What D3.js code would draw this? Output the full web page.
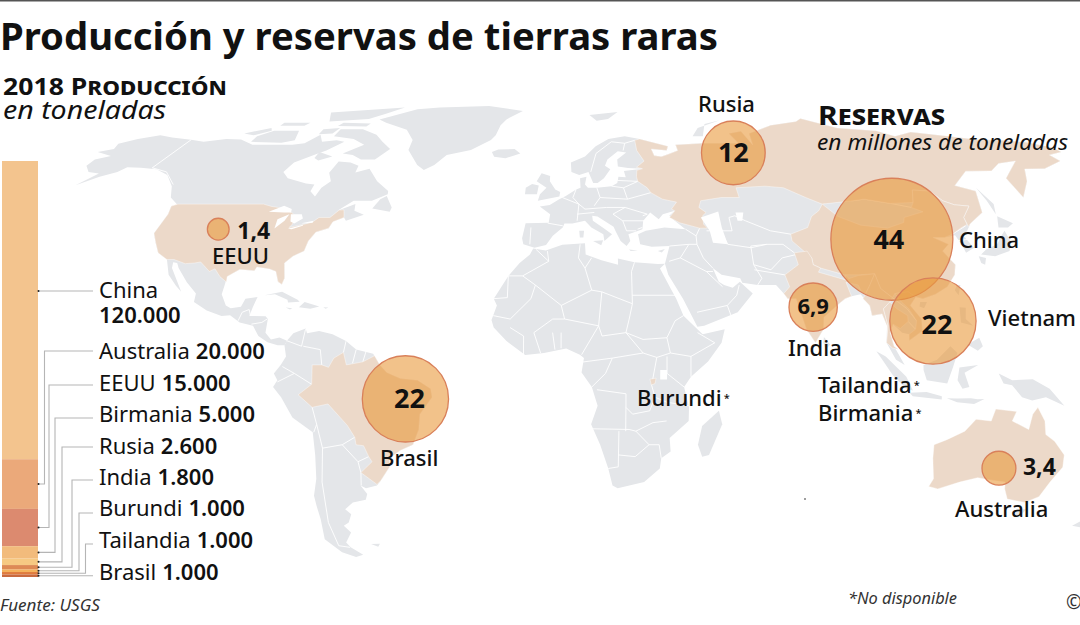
<!DOCTYPE html>
<html>
<head>
<meta charset="utf-8">
<script src="https://cdn.jsdelivr.net/npm/d3@7"></script>
<style>
  html, body { margin: 0; padding: 0; background: #fff; }
  svg { display: block; }
  text { font-family: "Noto Sans", "Open Sans", sans-serif; fill: #111; }
</style>
</head>
<body>
<svg id="chart" width="1080" height="625"></svg>
<script>
// production in tonnes, 2018
var prodNames = ['China', 'Australia', 'EEUU', 'Birmania', 'Rusia', 'India', 'Burundi', 'Tailandia', 'Brasil'];
var prodValues = [120000, 20000, 15000, 5000, 2600, 1800, 1000, 1000, 1000];
var prodLabels = ['120.000', '20.000', '15.000', '5.000', '2.600', '1.800', '1.000', '1.000', '1.000'];

// reserves in million tonnes
var resNames = ['Rusia', 'China', 'Vietnam', 'India', 'Brasil', 'EEUU', 'Australia'];
var resValues = [12, 44, 22, 6.9, 22, 1.4, 3.4];
var resLabels = ['12', '44', '22', '6,9', '22', '1,4', '3,4'];
var resLon = [64, 105, 112.3, 77.3, -42.6, -105, 134.5];
var resLat = [65.2, 38.5, 14.4, 18.5, -8.5, 41.5, -28.9];

// land outlines, [lon, lat]
var northAmerica = [[-168,65.5],[-164,66.5],[-166,68.3],[-162,70],[-156.5,71.3],[-150,70.5],[-141,69.7],[-135,69],[-128,70],[-122,69.8],[-115,68],[-108,68],[-100,68],[-96,68.5],[-94,71.5],[-90,69],[-85,69.5],[-81.5,69],[-85,66],[-87,65],[-93,62],[-94.5,59],[-92,57],[-85,55.3],[-82,55],[-82,52.9],[-79.5,51.3],[-79,54],[-76.8,56],[-78.5,58.7],[-77.5,62.4],[-73,62],[-69.5,61],[-69.5,58.8],[-65,60],[-61,56],[-56,53],[-55.7,52],[-60,50],[-66,50],[-70,47],[-65,49],[-64.5,47],[-61,45.8],[-66,44],[-67,45],[-70,43.7],[-70.5,41.8],[-74,40.6],[-75.5,38],[-76,35],[-79,33.5],[-81,31.5],[-80,27],[-80.5,25.2],[-81.8,26],[-83,29],[-85,29.7],[-89,30.3],[-89.5,29.2],[-94,29.6],[-97.3,27.5],[-97.5,25],[-97.8,22.3],[-96,19],[-94.5,18.2],[-91.5,18.6],[-90.5,21],[-87,21.5],[-88,18.5],[-88.8,15.9],[-84,15.8],[-83.3,15],[-83.7,11],[-82,9],[-79.5,9.6],[-77.3,8.6],[-78,7.3],[-80,7.3],[-83,8.2],[-85.7,10],[-87.5,13],[-91.5,14],[-94.5,16.1],[-97,15.9],[-101.5,17.5],[-105.5,20],[-105.5,22.5],[-109,25.8],[-112.5,30],[-113.5,31.5],[-114.8,31.7],[-114.5,30],[-110,23],[-112,24.8],[-115,28],[-117,32.5],[-120.5,34.5],[-122.5,37.5],[-124.3,40.3],[-124,46],[-124.7,48.4],[-122.5,48.5],[-127,51],[-130,54.5],[-134,58],[-139,59.8],[-145,60.3],[-150,60.5],[-152,59],[-157,57.5],[-163,54.8],[-158,58.5],[-162,59],[-165,61],[-165,63],[-161,64.2]];
var southAmerica = [[-77.3,8.6],[-75.5,10.8],[-72,12.2],[-71.5,10.8],[-68,11.5],[-64,10.5],[-60,8.5],[-57,6],[-52,4.8],[-50,1.5],[-48,-0.7],[-44,-2.5],[-39,-3],[-35.2,-5.5],[-34.8,-8],[-38.5,-13],[-39,-17.5],[-41,-22],[-45,-23.7],[-48.5,-26],[-48.7,-28.5],[-52,-32.5],[-53.5,-34],[-57,-34.8],[-58.5,-34],[-57,-36.5],[-57.8,-38.2],[-62,-39],[-65,-41],[-63.7,-42.5],[-65.5,-45],[-67.5,-46],[-66,-48],[-69,-51],[-68.3,-52.5],[-65.3,-54.8],[-68,-55.5],[-72,-54],[-75.5,-50],[-74,-44],[-73.5,-40],[-73.5,-37],[-71.5,-32],[-70.5,-25],[-70.3,-18.3],[-76,-14],[-79,-8],[-81.3,-5],[-80,-3],[-81,-1],[-79,1.5],[-77.5,4],[-78,7.3]];
var africa = [[-5.9,35.8],[-2,35.2],[3,36.9],[10,37.3],[10.2,34],[15,32.3],[20,31],[20,32.8],[25,31.7],[32,31.2],[34.2,31.3],[32.6,29.9],[35.5,24],[37,21],[39,16],[43,12],[44.5,10.5],[51,12],[50,8],[46,2.5],[41,-2],[39,-5],[40.5,-11],[40.5,-15],[35,-20],[35.5,-24],[32.8,-26],[32.5,-29],[28,-33],[20,-34.8],[18.4,-34],[17,-29],[14.5,-22],[11.8,-16],[13.7,-10.5],[12,-5],[9,-0.7],[9.7,3.5],[8.5,4.5],[4.5,6.3],[-2,5],[-7.5,4.4],[-13,8.5],[-16.8,12.5],[-17.5,14.7],[-16,19],[-17,21],[-13,27.7],[-9.8,31.5],[-6.8,34]];
var eurasia = [[-9,37],[-9.5,38.8],[-8.8,43.3],[-1.5,43.4],[-1.2,46],[-4.7,48.3],[-1.5,48.7],[1.5,50.5],[3.5,51.4],[7,53.5],[8.5,54],[8.3,57],[10.5,57.5],[10,55],[11,54],[14,54],[19,54.5],[21,55.5],[21.5,57.5],[24,57.3],[23.5,59.3],[30,60],[25,60.2],[21.5,60.7],[21.5,63],[25,65.3],[22,65.8],[18,63],[17,61],[18.8,59.8],[16.5,57],[14.3,55.5],[12.8,55.5],[11.2,59],[8,58],[5.3,59],[5,62],[10,64],[14,67.5],[19,70],[25.5,71],[31,70],[41,67.5],[40,66],[34.5,66.5],[35,64.3],[37.5,64],[40,64.7],[44,66],[44,68],[54,68.5],[60,68.5],[68,68.5],[67,72],[72.5,72.8],[73,68],[75,72],[81,73.5],[87,75],[100,76.5],[104,77.7],[113,74],[127,73],[131,71],[140,72.5],[152,71],[160,69.8],[170,69.5],[178,68.8],[184,67],[184,65.5],[178,64.5],[179,62.5],[170,60],[163,59.9],[161,56],[155,51],[154.5,57],[163,62.5],[156,61.7],[151,59.3],[142,59.2],[135.5,54.7],[141,53],[138,46.5],[132,43.2],[129.5,41],[127.5,39.5],[129.5,36],[126.5,34.5],[126,37],[125,39.7],[121.5,39],[118,39],[122,37],[119.5,35],[122,31],[121,28],[118,24.5],[114,22.3],[110,21],[108,21.5],[106,19],[109,15],[109,11.5],[105,8.7],[105,10.5],[103,11],[100.5,13.5],[99.5,11],[100.5,7],[103.5,1.5],[101,3],[98.3,8],[98.7,13],[97.5,16.5],[94.5,16],[94,19],[91.8,22.3],[89,21.7],[87,21],[85,19.5],[80.3,15.5],[80,12],[77.5,8],[75,12],[73,19],[72.5,21],[70,21],[69,22.5],[67,25],[61.5,25],[57,25.7],[56.5,27],[51,28],[48.5,30],[50,26],[51.5,25],[54,24.2],[56.3,26],[59.8,22.5],[55,17],[45,13],[43,12.7],[39,21],[35,28],[34.2,31.3],[36,36.5],[30.5,36.3],[27,37],[26.5,40],[29,41],[35,42],[41.5,41.5],[38,44.5],[37,45.5],[39,47],[35,46],[33.5,44.5],[31,46.5],[28.5,44],[28,41.5],[26,40.8],[23.5,40],[24,38],[22.8,36.5],[21,38],[19.5,41],[19,42.2],[14,45.3],[12.3,45.5],[12.5,44],[16,41.7],[18.4,40],[16,38],[15.7,40],[12,42],[10,44],[6,43.2],[3.5,43.2],[3,42],[0,39.5],[-2,36.8],[-5.5,36]];
var australia = [[113.5,-22],[114,-26],[115.7,-32],[115,-34.3],[118,-35],[124,-33],[129,-31.7],[134,-32.5],[137.8,-33],[138.5,-35],[140.5,-38],[146.4,-39],[150,-37.3],[151.5,-33],[153.6,-28.6],[153,-25],[149,-21],[146,-19],[145.3,-15],[142.8,-11],[141.5,-13],[140.8,-17.5],[135.7,-15],[136.7,-12.2],[130.5,-11.5],[129.5,-15],[125,-14.5],[122,-18],[117,-20.5]];
var greenland = [[-79,77.3],[-70,82],[-61,83],[-38,84],[-19,81],[-24,77.3],[-25,75],[-25,71.3],[-26,69.6],[-32,66.2],[-40,64.5],[-43,61.2],[-46,59.6],[-49,61.2],[-55,66.2],[-56,69.6],[-62,73.3],[-74,76]];
var islands = [
  [[-80,73.5],[-72,71.5],[-67,69],[-62,66.5],[-65,63],[-70,63],[-74,64.5],[-78,65],[-73,68],[-79,70],[-88,71],[-89,73.5]],
  [[-117,69],[-105,68.7],[-101,69.5],[-105,73],[-115,73],[-118,71]],
  [[-125,72],[-118,74],[-116,73],[-120,71.3]],
  [[-106,80],[-78,83],[-80,79.5],[-84,77.5],[-99,76.5]],
  [[-92,76],[-80,75.7],[-80,74.5],[-92,74.7]],
  [[-117,76],[-106,76],[-106,74.8],[-116,74.8]],
  [[-96,73.5],[-90,74],[-90,72],[-95,71.7]],
  [[-87,65.5],[-81,64],[-85,62.7],[-87,63.5]],
  [[-59,47.7],[-53,46.7],[-52.8,48],[-55.8,51.5],[-57.5,50.5]],
  [[-85,22],[-80,23],[-75,20.7],[-74.3,20.1],[-77.7,19.9],[-78,20.7],[-82,22.3]],
  [[-74.4,18.5],[-72.8,20],[-68.4,18.7],[-71,18]],
  [[-78.3,18.4],[-76.3,18.2],[-77,17.8]],
  [[-67.2,18.5],[-65.7,18.4],[-66.5,18]],
  [[-24,65.5],[-22,66.4],[-16,66.5],[-13.5,65],[-18.5,63.4],[-22.7,63.9]],
  [[49.3,-12],[50.4,-16],[47,-25],[45,-25.5],[43.5,-22],[44.5,-16.5]],
  [[-5.5,50],[1.5,51.3],[1.7,52.7],[0,53.5],[-2,56],[-2,57.7],[-5,58.6],[-6.5,56],[-3,54],[-5,52]],
  [[-10,52],[-6,52],[-5.7,54.7],[-8,55.2],[-10,54]],
  [[12,79],[25,80.4],[20,77.5],[15,76.8]],
  [[52,71],[56,74],[68,77],[60,75.5],[56,71]],
  [[142,54],[143.5,49],[142,46],[142,50]],
  [[130.9,34],[135,33.5],[140,35],[141.5,38],[141.2,41],[139.8,40],[137,37],[133,35.5]],
  [[140,42],[142,45.4],[145.5,43.3],[143,42]],
  [[130,33.5],[132,33],[131,31],[130,31.5]],
  [[121,25],[122,25],[120.8,22],[120,23.5]],
  [[109,20],[111,20],[110,18.2],[108.7,18.7]],
  [[80,9.7],[81.8,7.5],[80.5,6],[79.8,8]],
  [[95.3,5.5],[98,4],[104,-2],[106,-6],[104,-5.5],[100,-1.5],[97,3]],
  [[105,-6.7],[110,-6.5],[114.5,-7.7],[114.5,-8.7],[106,-7.7]],
  [[109,1.5],[113,3],[117,7],[119,5],[117.7,1],[116,-4],[110,-3],[109,0]],
  [[119.5,0.7],[125,1.5],[121,-0.8],[122.5,-5],[120.5,-5.5],[119,-3]],
  [[120.5,18.5],[122.3,18.3],[122,15],[124,13],[120.5,14]],
  [[122,7.5],[125.5,9.5],[126.5,7],[125,5.7]],
  [[131,-1],[135,-3],[141,-2.7],[146,-5.5],[150.5,-10.5],[145,-8],[141,-9],[138,-8],[135,-4.5],[132.5,-4]],
  [[116,-8.3],[119,-8.4],[123,-8.3],[125,-8.6],[127,-8.5],[124,-10],[119,-9.5]],
  [[145,-41],[148,-41],[147.5,-43.4],[146,-43.4]],
  [[172.7,-34.5],[178.5,-37.7],[175,-41.5],[174,-39.5]],
  [[172,-41],[174.3,-41.7],[170,-46.5],[166.5,-46]],
  [[8.2,41],[9.7,41],[9.5,39],[8.4,39]],
  [[12.5,38],[15.6,38.2],[15,36.7]],
  [[23.5,35.5],[26.2,35.2],[24,35]],
  [[32.3,35],[34.5,35.6],[33.5,34.6]],
  [[-61,-51.5],[-58,-51.4],[-59,-52.3]]
];
// water sitting inside the land
var lakes = [
  [[47,45],[53,46.8],[53,42],[54,37],[49.5,37.5],[49,41]],
  [[-92,46.7],[-88,48.5],[-85,47.5],[-84.7,46.5],[-87,46.5]],
  [[-87.5,41.7],[-88,44.5],[-85,46],[-85.5,44]],
  [[-84.5,46],[-81,46],[-80,44.7],[-82,43.2],[-83.5,43.8]],
  [[-83.2,41.6],[-79,42.8],[-79,42.5],[-82,41.5]],
  [[-79.8,43.3],[-76.3,44],[-76.3,43.4],[-79,43.2]],
  [[58.5,46.5],[61,46.5],[60,44],[58.5,44]],
  [[32,0],[34,0],[34,-2.8],[32,-2.8]]
];

// highlighted countries
var unitedStates = [[-124.7,48.4],[-123,49],[-95,49],[-92,48.3],[-89.5,48],[-84.5,46.5],[-82.5,45.3],[-82.5,43],[-83,42],[-79,42.9],[-76.5,43.6],[-75,45],[-71.5,45],[-69.5,47.2],[-68,47.3],[-67,45],[-70,43.7],[-70.5,41.8],[-74,40.6],[-75.5,38],[-76,35],[-79,33.5],[-81,31.5],[-80,27],[-80.5,25.2],[-81.8,26],[-83,29],[-85,29.7],[-89,30.3],[-89.5,29.2],[-94,29.6],[-97.3,27.5],[-97.2,25.9],[-99.5,27.5],[-101.5,29.8],[-103,29],[-106.5,31.8],[-108.2,31.5],[-111,31.3],[-114.8,32.5],[-117,32.5],[-120.5,34.5],[-122.5,37.5],[-124.3,40.3],[-124,46]];
var brazil = [[-51.6,4.2],[-50,1.5],[-48,-0.7],[-44,-2.5],[-39,-3],[-35.2,-5.5],[-34.8,-8],[-38.5,-13],[-39,-17.5],[-41,-22],[-45,-23.7],[-48.5,-26],[-48.7,-28.5],[-52,-32.5],[-53.4,-33.7],[-57.6,-30.2],[-53.8,-27],[-54.6,-25.5],[-55.7,-22.3],[-57.9,-22],[-58,-19.8],[-60,-16.3],[-65.3,-10],[-70,-11],[-74,-7.3],[-70,-4.2],[-69.8,1.5],[-67,1.5],[-65,0.8],[-63.5,3.5],[-60.7,5.2],[-59.8,1.5],[-55,2.4]];
var russia = [[31,70],[41,67.5],[40,66],[34.5,66.5],[35,64.3],[37.5,64],[40,64.7],[44,66],[44,68],[54,68.5],[60,68.5],[68,68.5],[67,72],[72.5,72.8],[73,68],[75,72],[81,73.5],[87,75],[100,76.5],[104,77.7],[113,74],[127,73],[131,71],[140,72.5],[152,71],[160,69.8],[170,69.5],[178,68.8],[184,67],[184,65.5],[178,64.5],[179,62.5],[170,60],[163,59.9],[161,56],[155,51],[154.5,57],[163,62.5],[156,61.7],[151,59.3],[142,59.2],[135.5,54.7],[141,53],[138,46.5],[132,43.2],[130.7,42.3],[131,45],[135,48.4],[130.5,48.8],[127.5,50],[125.5,53],[120,53.3],[117.5,49.5],[110,49.2],[102,50.5],[98,50],[87.5,49],[83,51],[77,54],[71,54.5],[61,54],[61,51],[55,51],[48,50],[47,48],[49,46.5],[47.7,45.5],[47.5,43],[48.5,41.8],[46,41.8],[40,43.4],[37,45],[39,47],[38,47.5],[40,49.6],[35.5,50.5],[32,52.5],[31,54],[28,56],[27.7,57.5],[28,59.5],[30,60],[28,60.5],[31,62.5],[29,66],[29,69.5]];
var china = [[130.7,42.9],[131,45],[135,48.4],[130.5,48.8],[127.5,50],[125.5,53],[120,53.3],[117.5,49.5],[116,48],[119,46.7],[112,45],[111,43.5],[105,41.8],[97,42.7],[91,45.3],[87.5,49],[85.5,47],[82.5,45.3],[80,42],[74,40],[74,38],[79,33],[79,31],[81,30],[88,28],[92,28],[97,28.3],[98,24],[101,21.3],[102,22.5],[106,23],[108,21.5],[110,21],[114,22.3],[118,24.5],[121,28],[122,31],[119.5,35],[122,37],[118,39],[121.5,39],[124.3,40],[128,41.8]];
var india = [[74,34.5],[78,35],[79,33],[79,31],[81,30],[80.2,28.8],[88,26.5],[88.3,28],[89,26.9],[92,27.8],[97,28.3],[95,25],[93,22],[92,23.5],[91.5,25],[88,25.8],[89,21.7],[87,21],[85,19.5],[80.3,15.5],[80,12],[77.5,8],[75,12],[73,19],[72.5,21],[70,21],[69,22.5],[71,24.5],[70,28],[74.5,31]];
var myanmar = [[97,28.3],[98,24],[101,21.3],[100,20],[98,18],[99,13],[98.7,10],[98.7,13],[97.5,16.5],[94.5,16],[94,19],[92.3,21],[93,22],[95,25]];
var thailand = [[98,18],[100,20],[102,18],[105,16],[105,14.3],[102.5,12.2],[100.5,13.5],[99.5,11],[100.5,7],[101.8,6],[100,6.5],[98.3,8],[99,13]];
var vietnam = [[102,22.5],[106,23],[108,21.5],[106,19],[109,15],[109,11.5],[105,8.7],[105,10.5],[107,12],[107.5,14.5],[105.5,18],[103.5,20]];
var burundi = [[29,-2.7],[30.8,-2.4],[30.5,-4],[29.4,-4.4]];

// thin white frontiers
var frontiers = [
  [[-141,69.7],[-141,60.3],[-135,59],[-130,55]],
  [[-92,14.5],[-91,17],[-89,17.8],[-88.5,16]],
  [[-88,13.5],[-85,14],[-83.5,15]],
  [[-77.3,8.6],[-73,7],[-72,12]],
  [[-72.5,7],[-67.5,6],[-67,1.5]],
  [[-60.7,5.2],[-60,8.5]],
  [[-57,6],[-58,2]],[[-54,5.8],[-55,2.4]],
  [[-70,-4.2],[-75,-1],[-78.5,1]],[[-75,-1],[-80,-3.5]],
  [[-70,-11],[-69,-16],[-70,-18.3]],
  [[-69,-16],[-68,-23],[-62,-22],[-58,-19.8]],
  [[-68,-23],[-70,-33],[-72,-45],[-72,-52],[-68.5,-52.5]],
  [[-62,-22],[-58,-27],[-54.6,-25.5]],
  [[-58,-27],[-57.6,-30.2],[-58.3,-34]],
  [[-8.7,27.7],[-13,27.7]],[[-8.7,27.7],[-1,32],[-5,35.5]],
  [[-1,32],[-1.5,35]],
  [[-8.7,27.7],[-4.8,25],[-6,21],[-12,15],[-17,16]],[[-13,21.3],[-17,21]],[[-13,21.3],[-13,27.7]],
  [[-4.8,25],[3,19],[12,23.5],[10,30],[8,33],[8.5,37]],
  [[10,30],[12,33]],[[12,23.5],[15,23],[24,19.5],[24,29],[25,31.7]],
  [[24,22],[36.8,22]],[[24,19.5],[23,15],[22,11],[27,9]],[[15,23],[14,13],[15,10]],[[3,19],[4,15],[0.5,15],[-5,11],[-3,5]],
  [[4,15],[14,13]],[[3,11],[3,6.4]],[[14,13],[9,4.5]],[[1.2,6],[0.5,11]],[[-8,4.5],[-8,10],[-12,12.5]],
  [[15,10],[22,11]],[[22,11],[27,5],[31,3.7],[35,5],[34,9.5],[36.5,14.5],[39,16]],
  [[34,9.5],[27,9]],[[35,5],[41,4],[48,8],[43,11]],[[41,4],[41,-2]],[[34,4],[34,-1],[39,-5]],
  [[9,2.3],[18,3.5],[16,-1],[12,-5]],[[18,3.5],[27,5]],[[13.5,-5.8],[22,-7],[22,-11],[24,-13],[29,-12],[30.5,-8],[29.5,-4.5],[31,3.7]],
  [[30.5,-8],[34,-9.5],[40.5,-10.5]],[[12,-17.3],[23,-17.5],[25,-18],[30,-15.5],[34,-15]],[[22,-11],[22,-18]],[[20,-18],[20,-28.5],[17,-29]],
  [[25,-18],[29,-22],[32,-22],[32.8,-26]],[[20,-25],[25,-25.5],[29,-22]],
  [[-1.8,43.3],[3,42.5]],[[-7,42],[-7,37]],[[2.5,51],[8,49],[7.5,44]],[[7,53.5],[6,51],[8,49]],[[8,49],[10,47.5],[17,48],[23,48]],
  [[14,54],[15,51],[24,50.5],[23,54],[19,54.5]],[[15,51],[13,48.5]],[[13,46.5],[7.5,46]],[[24,50.5],[32,52.5]],[[23,54],[28,56]],[[21,56.3],[28,56]],
  [[23,48],[30,46],[28.5,45.5]],[[22,44],[29,44]],[[19,46],[23,48]],[[19,46],[22,44],[23,41],[26,41]],[[26.5,41.5],[28,42]],
  [[12,59],[14,65],[20,69],[25,68.5],[29,69.5]],[[24,66],[25,68.5]],
  [[36,36.5],[42,37],[44.5,37],[44.5,39.5],[41.5,41.5]],[[46,41.8],[44.5,39.5]],[[44.5,37],[46,33],[48.5,30]],[[42,37],[39,33],[35.5,32]],[[39,33],[46.5,29],[48.5,29]],[[46.5,29],[51,24.5]],[[43,17],[52,19],[55,22],[56,25]],[[52,19],[53,16]],
  [[61,36.5],[61,31],[63,27],[61.5,25]],[[54,37],[61,36],[66,37],[71,37]],[[48,41],[56,41],[56,45],[58,45.5],[61,44],[68,41],[74,40]],[[66,37],[61,36.5]],[[71,37],[74,34.5]],[[61,29.5],[70,28]],[[61,31],[66,29.5],[70,33],[74.5,34]],
  [[47,45],[52,42],[54,37]],[[87.5,49],[92,50.5],[98,50],[102,50.5],[110,49.2],[116,48]],[[124.3,40],[130,42.5]],[[125,38],[128.5,38.5]],
  [[101,21.3],[105,18],[107.5,14.5]],[[105,14.3],[107,12]]
];

// table of the map: Robinson-like shape fitted on the picture
var tableLat = [0, 10, 20, 30, 40, 50, 55, 60, 65, 70, 75, 80, 90];
var tableLen = [1, 0.998, 0.99, 0.97, 0.94, 0.89, 0.86, 0.84, 0.805, 0.76, 0.705, 0.64, 0.5];
var tableDrop = [0, 0.124, 0.248, 0.372, 0.4958, 0.6176, 0.6769, 0.7346, 0.7903, 0.8435, 0.8936, 0.9394, 1];

var width = 1080, height = 625;
var lonCentre = 10, xCentre = 585, yEquator = 370, xScale = 3.42, yScale = 274;

var lenAt = d3.scaleLinear().domain(tableLat).range(tableLen);
var dropAt = d3.scaleLinear().domain(tableLat).range(tableDrop);

function project(lon, lat) {
  var a = Math.abs(lat);
  return [xCentre + (lon - lonCentre) * xScale * lenAt(a),
          yEquator - (lat < 0 ? -1 : 1) * yScale * dropAt(a)];
}

var path = d3.geoPath(d3.geoTransform({
  point: function(lon, lat) {
    var p = project(lon, lat);
    this.stream.point(p[0], p[1]);
  }
}));

function polygon(ring) {
  return {type: 'Polygon', coordinates: [ring.concat([ring[0]])]};
}

var landColor = '#e4e6e9', pickColor = '#ecd9c9';
var svg = d3.select('#chart');

svg.append('rect').attr('width', width).attr('height', 1.5).attr('fill', '#555');

// map
var mapG = svg.append('g');
mapG.selectAll('path.land')
    .data([northAmerica, southAmerica, africa, eurasia, greenland].concat(islands))
  .enter().append('path')
    .attr('class', 'land')
    .attr('d', function(d) { return path(polygon(d)); })
    .attr('fill', landColor);

mapG.append('path')
    .datum({type: 'MultiLineString', coordinates: frontiers})
    .attr('d', path)
    .attr('fill', 'none')
    .attr('stroke', '#fff')
    .attr('stroke-width', 0.9);

mapG.selectAll('path.pick')
    .data([unitedStates, brazil, russia, china, india, myanmar, thailand, vietnam, burundi, australia])
  .enter().append('path')
    .attr('class', 'pick')
    .attr('d', function(d) { return path(polygon(d)); })
    .attr('fill', pickColor)
    .attr('stroke', '#fff')
    .attr('stroke-width', 0.4);

mapG.selectAll('path.lake')
    .data(lakes)
  .enter().append('path')
    .attr('class', 'lake')
    .attr('d', function(d) { return path(polygon(d)); })
    .attr('fill', '#fff');

// reserves circles
var radius = d3.scaleSqrt().domain([0, 44]).range([0, 61]);

svg.selectAll('circle.res')
    .data(resNames)
  .enter().append('circle')
    .attr('class', 'res')
    .attr('cx', function(d, i) { return project(resLon[i], resLat[i])[0]; })
    .attr('cy', function(d, i) { return project(resLon[i], resLat[i])[1]; })
    .attr('r', function(d, i) { return radius(resValues[i]); })
    .attr('fill', '#ea9a3c')
    .attr('fill-opacity', 0.6)
    .attr('stroke', '#d9805a')
    .attr('stroke-width', 1.3);

// production bar
var total = d3.sum(prodValues);
var stackEnds = Array.from(d3.cumsum(prodValues));
var barY = d3.scaleLinear().domain([0, total]).range([161, 577]);
var barColor = d3.scaleOrdinal().domain(prodNames)
    .range(['#f3c48e', '#eba97a', '#dc8a6f', '#f2bb7c', '#f6c983', '#dd8a55', '#f5b35c', '#e07b3c', '#c96a3e']);

svg.selectAll('rect.bar')
    .data(prodNames)
  .enter().append('rect')
    .attr('class', 'bar')
    .attr('x', 2)
    .attr('width', 36)
    .attr('y', function(d, i) { return barY(stackEnds[i] - prodValues[i]); })
    .attr('height', function(d, i) { return barY(stackEnds[i]) - barY(stackEnds[i] - prodValues[i]); })
    .attr('fill', barColor);

// leaders and labels next to the bar
var elbowX = d3.scaleOrdinal().domain(prodNames).range([0, 44.5, 49, 55, 62, 72, 79, 85.5, 0]);
var lineY = d3.scaleOrdinal().domain(prodNames).range([291, 351, 385, 418, 447, 480, 513, 544, 577]);
var baseY = d3.scaleOrdinal().domain(prodNames).range([298, 359, 391, 422, 454, 485, 516, 548, 580]);

var legend = svg.selectAll('g.row').data(prodNames).enter().append('g').attr('class', 'row');

legend.append('path')
    .attr('d', function(d, i) {
      var from = barY(stackEnds[i] - prodValues[i] / 2);
      if (!elbowX(d)) return 'M38,' + (d == 'China' ? lineY(d) : from) + 'H93';
      return 'M38,' + from + 'H' + elbowX(d) + 'V' + lineY(d) + 'H93';
    })
    .attr('fill', 'none')
    .attr('stroke', '#b5b5b5')
    .attr('stroke-width', 1.1);

legend.append('circle')
    .attr('cx', 38.5)
    .attr('cy', function(d, i) { return d == 'China' ? lineY(d) : barY(stackEnds[i] - prodValues[i] / 2); })
    .attr('r', 1)
    .attr('fill', '#222');

var rowSize = 22;
legend.append('text')
    .attr('class', 'name')
    .attr('x', 99)
    .attr('y', function(d) { return baseY(d); })
    .attr('font-size', rowSize)
    .text(function(d) { return d; });

legend.append('text')
    .attr('x', function(d) {
      if (d == 'China') return 99;
      return 99 + this.parentNode.querySelector('.name').getComputedTextLength() + 6;
    })
    .attr('y', function(d) { return d == 'China' ? 323 : baseY(d); })
    .attr('font-size', rowSize)
    .attr('font-weight', 600)
    .text(function(d, i) { return prodLabels[i]; });

// country names on the map
var placeNames = ['Rusia', 'China', 'Vietnam', 'India', 'Brasil', 'EEUU', 'Australia', 'Tailandia', 'Birmania', 'Burundi'];
var placeX = [698, 959, 988, 788, 380, 212, 955, 818, 818, 637];
var placeY = [112, 248, 326, 356, 466, 264, 517, 393, 421, 406];
var placeStar = [0, 0, 0, 0, 0, 0, 0, 1, 1, 1];

var placeText = svg.selectAll('text.place')
    .data(placeNames)
  .enter().append('text')
    .attr('class', 'place')
    .attr('x', function(d, i) { return placeX[i]; })
    .attr('y', function(d, i) { return placeY[i]; })
    .attr('font-size', 22)
    .attr('font-weight', 500)
    .attr('textLength', function(d) { return d == 'Vietnam' ? 88 : null; })
    .attr('lengthAdjust', 'spacingAndGlyphs')
    .text(function(d) { return d; });
placeText.filter(function(d, i) { return placeStar[i]; })
  .append('tspan')
    .attr('dx', 2)
    .attr('dy', -4)
    .attr('font-size', 11)
    .text('*');

// values of the reserves
var valueAnchor = ['middle', 'middle', 'middle', 'middle', 'middle', 'start', 'start'];
var valueSize = [27, 27, 27, 22, 27, 23, 23];
var valueDx = [0, -3, 4, 0, 4, 19, 24];
var valueDy = [9, 10, 13, 7, 9, 10, 7];
svg.selectAll('text.value')
    .data(resLabels)
  .enter().append('text')
    .attr('class', 'value')
    .attr('x', function(d, i) { return project(resLon[i], resLat[i])[0] + valueDx[i]; })
    .attr('y', function(d, i) { return project(resLon[i], resLat[i])[1] + valueDy[i]; })
    .attr('text-anchor', function(d, i) { return valueAnchor[i]; })
    .attr('font-size', function(d, i) { return valueSize[i]; })
    .attr('font-weight', 700)
    .text(function(d) { return d; });

// titles
svg.append('text').attr('x', 0).attr('y', 50)
    .attr('font-size', 38).attr('font-weight', 700).attr('textLength', 718).attr('lengthAdjust', 'spacingAndGlyphs')
    .text('Producción y reservas de tierras raras');
svg.append('text').attr('x', 3).attr('y', 95)
    .attr('font-size', 24).attr('font-weight', 700).style('font-variant', 'small-caps')
    .attr('textLength', 224).attr('lengthAdjust', 'spacingAndGlyphs')
    .text('2018 Producción');
svg.append('text').attr('x', 3).attr('y', 119)
    .attr('font-size', 25).attr('font-style', 'italic').attr('textLength', 163).attr('lengthAdjust', 'spacingAndGlyphs')
    .text('en toneladas');
svg.append('text').attr('x', 818).attr('y', 125)
    .attr('font-size', 27).attr('font-weight', 700).style('font-variant', 'small-caps')
    .attr('textLength', 127).attr('lengthAdjust', 'spacingAndGlyphs')
    .text('Reservas');
svg.append('text').attr('x', 817).attr('y', 150)
    .attr('font-size', 21).attr('font-style', 'italic').attr('textLength', 251).attr('lengthAdjust', 'spacingAndGlyphs')
    .text('en millones de toneladas');

// footer
svg.append('text').attr('x', 0).attr('y', 611)
    .attr('font-size', 16).attr('font-style', 'italic').attr('textLength', 100).attr('lengthAdjust', 'spacingAndGlyphs').style('fill', '#333')
    .text('Fuente: USGS');
svg.append('text').attr('x', 848).attr('y', 604)
    .attr('font-size', 16).attr('font-style', 'italic').attr('textLength', 109).attr('lengthAdjust', 'spacingAndGlyphs').style('fill', '#333')
    .text('*No disponible');
svg.append('text').attr('x', 1066).attr('y', 609)
    .attr('font-size', 19).style('fill', '#333')
    .text('©');

// speck in the southern Indian Ocean
var speck = project(78, -38);
svg.append('circle').attr('cx', speck[0]).attr('cy', speck[1]).attr('r', 0.8).attr('fill', '#222');
</script>
</body>
</html>
